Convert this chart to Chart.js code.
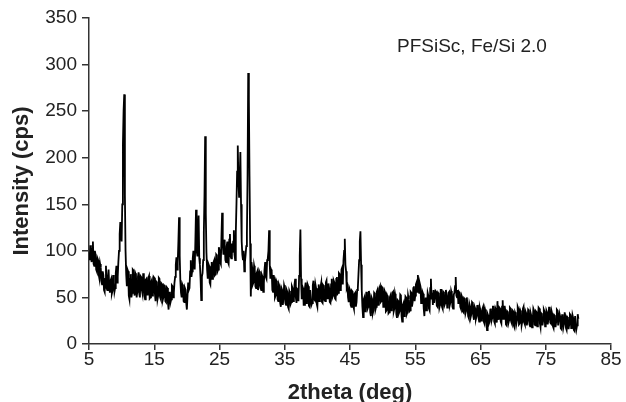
<!DOCTYPE html>
<html>
<head>
<meta charset="utf-8">
<script src="https://cdn.jsdelivr.net/npm/chart.js@4"></script>
<style>
  html, body { margin: 0; padding: 0; background: #fff; }
  canvas { display: block; }
</style>
</head>
<body>
<canvas id="xrd" width="626" height="402"></canvas>
<script>
// scan: 5 -> 80 deg, 0.1 deg step (one row per degree)
const scanStart = 5;
const scanStep = 0.1;

const intensity = [
  98, 90, 106, 94, 88, 102, 110, 86, 84, 100,        // 5
  96, 80, 78, 92, 90, 74, 70, 86, 82, 68,            // 6
  64, 78, 74, 58, 56, 70, 84, 60, 58, 72,            // 7
  80, 62, 55, 68, 70, 54, 57, 74, 66, 56,            // 8
  60, 76, 84, 66, 72, 88, 100, 118, 131, 122,        // 9
  110, 150, 215, 250, 268, 160, 100, 75, 62, 80,     // 10
  78, 52, 48, 70, 75, 50, 55, 80, 79, 56,            // 11
  52, 76, 74, 50, 56, 72, 77, 54, 50, 73,            // 12
  72, 58, 54, 75, 76, 52, 48, 69, 70, 53,            // 13
  55, 71, 73, 49, 50, 66, 68, 52, 53, 72,            // 14
  71, 54, 46, 67, 66, 48, 52, 71, 70, 50,            // 15
  48, 65, 64, 47, 50, 63, 62, 46, 45, 61,            // 16
  60, 44, 37, 55, 56, 45, 48, 63, 62, 50,            // 17
  55, 66, 72, 85, 93, 80, 88, 110, 136, 95,          // 18
  68, 55, 50, 64, 62, 46, 45, 60, 58, 44,            // 19
  37, 52, 66, 58, 60, 78, 90, 72, 78, 92,            // 20
  100, 86, 80, 110, 144, 100, 95, 120, 138, 92,      // 21
  85, 70, 47, 72, 76, 90, 120, 160, 223, 140,        // 22
  98, 80, 70, 86, 84, 66, 64, 82, 88, 70,            // 23
  72, 88, 90, 74, 75, 96, 95, 78, 80, 104,           // 24
  100, 88, 86, 115, 141, 108, 96, 112, 107, 90,      // 25
  88, 105, 110, 88, 86, 112, 118, 94, 92, 108,       // 26
  98, 110, 122, 96, 90, 120, 150, 185, 213, 175,     // 27
  158, 180, 206, 150, 110, 96, 90, 100, 78, 88,      // 28
  96, 105, 118, 180, 291, 263, 180, 108, 51, 88,     // 29
  82, 64, 66, 84, 80, 62, 60, 76, 78, 58,            // 30
  62, 78, 76, 60, 58, 74, 72, 56, 65, 80,            // 31
  88, 72, 70, 90, 92, 100, 122, 85, 70, 80,          // 32
  78, 58, 56, 74, 70, 50, 52, 68, 66, 48,            // 33
  46, 64, 62, 44, 40, 60, 58, 42, 48, 63,            // 34
  60, 44, 42, 58, 56, 40, 38, 57, 55, 43,            // 35
  45, 62, 60, 46, 48, 64, 70, 50, 44, 59,            // 36
  58, 46, 73, 95, 123, 70, 48, 62, 60, 42,           // 37
  42, 60, 66, 44, 45, 64, 62, 41, 40, 58,            // 38
  58, 42, 44, 63, 68, 48, 47, 64, 60, 43,            // 39
  40, 58, 64, 46, 48, 62, 66, 45, 44, 63,            // 40
  62, 47, 46, 66, 68, 49, 50, 65, 60, 45,            // 41
  44, 64, 70, 50, 52, 68, 66, 49, 48, 70,            // 42
  72, 54, 55, 76, 75, 58, 60, 80, 82, 64,            // 43
  90, 100, 113, 85, 78, 60, 62, 50, 45, 60,          // 44
  58, 42, 40, 57, 56, 41, 38, 54, 55, 40,            // 45
  45, 58, 60, 75, 90, 110, 121, 85, 58, 40,          // 46
  29, 48, 50, 35, 36, 55, 56, 38, 40, 57,            // 47
  52, 34, 30, 50, 48, 33, 36, 55, 54, 37,            // 48
  40, 56, 58, 42, 44, 60, 62, 45, 46, 61,            // 49
  60, 40, 42, 57, 55, 35, 36, 52, 50, 33,            // 50
  34, 50, 52, 36, 40, 55, 56, 35, 38, 54,            // 51
  50, 32, 28, 47, 46, 33, 35, 53, 52, 30,            // 52
  24, 42, 44, 30, 38, 51, 50, 32, 34, 52,            // 53
  48, 35, 36, 56, 55, 40, 45, 60, 62, 46,            // 54
  52, 64, 66, 56, 74, 58, 55, 65, 62, 44,            // 55
  45, 56, 54, 38, 30, 48, 50, 36, 40, 55,            // 56
  52, 38, 36, 60, 70, 48, 55, 42, 58, 44,            // 57
  44, 57, 56, 41, 40, 55, 54, 39, 42, 58,            // 58
  58, 40, 38, 56, 55, 42, 44, 58, 52, 39,            // 59
  40, 55, 56, 42, 45, 57, 54, 40, 38, 53,            // 60
  55, 62, 72, 52, 50, 58, 44, 56, 55, 40,            // 61
  38, 52, 50, 35, 34, 49, 48, 33, 36, 50,            // 62
  42, 30, 28, 43, 40, 29, 32, 45, 44, 30,            // 63
  26, 40, 38, 27, 30, 41, 42, 28, 24, 39,            // 64
  36, 25, 27, 38, 40, 24, 22, 37, 34, 23,            // 65
  15, 32, 30, 22, 24, 37, 38, 25, 28, 40,            // 66
  40, 24, 22, 38, 36, 23, 46, 30, 26, 39,            // 67
  38, 24, 22, 40, 47, 27, 28, 41, 36, 21,            // 68
  20, 35, 34, 23, 26, 39, 38, 24, 22, 36,            // 69
  35, 20, 18, 34, 32, 22, 26, 40, 38, 21,            // 70
  22, 36, 34, 20, 24, 38, 40, 23, 21, 35,            // 71
  33, 20, 25, 37, 36, 21, 19, 33, 30, 18,            // 72
  24, 38, 36, 21, 20, 35, 34, 19, 27, 39,            // 73
  38, 22, 18, 33, 32, 20, 25, 37, 35, 19,            // 74
  20, 36, 34, 21, 26, 39, 40, 23, 22, 35,            // 75
  32, 19, 17, 31, 30, 18, 24, 37, 36, 20,            // 76
  20, 33, 30, 17, 16, 31, 32, 18, 22, 34,            // 77
  30, 17, 15, 29, 28, 16, 21, 32, 31, 17,            // 78
  18, 31, 28, 15, 14, 30, 30, 16, 20, 32,            // 79
  27                                                 // 80
];

const xRange = [5, 85, 10];
const yRange = [0, 350, 50];
const xTitle = "2theta (deg)";
const yTitle = "Intensity (cps)";
const noteText = "PFSiSc, Fe/Si 2.0";
const notePos = [52.2, 314];

const points = intensity.map((v, i) => ({ x: scanStart + i * scanStep, y: v }));

const fontFamily = '"Liberation Sans", Arial, sans-serif';
const ink = "#222";

// sample label in the upper right, placed in data units
const notePlugin = {
  id: "note",
  afterDraw(chart) {
    const { ctx, scales } = chart;
    ctx.save();
    ctx.font = "19px " + fontFamily;
    ctx.fillStyle = ink;
    ctx.textAlign = "left";
    ctx.textBaseline = "alphabetic";
    ctx.fillText(noteText, scales.x.getPixelForValue(notePos[0]), scales.y.getPixelForValue(notePos[1]));
    ctx.restore();
  },
};

new Chart(document.getElementById("xrd"), {
  type: "line",
  data: {
    datasets: [
      {
        data: points,
        borderColor: "#000",
        borderWidth: 1.8,
        pointRadius: 0,
        tension: 0,
        fill: false,
      },
    ],
  },
  options: {
    responsive: false,
    animation: false,
    devicePixelRatio: 1,
    layout: { padding: { top: 18, right: 15, left: 0, bottom: 0 } },
    plugins: { legend: { display: false }, tooltip: { enabled: false } },
    scales: {
      x: {
        type: "linear",
        min: xRange[0],
        max: xRange[1],
        afterFit: (scale) => { scale.height = 58; },
        ticks: {
          stepSize: xRange[2],
          color: ink,
          padding: 0,
          font: { family: fontFamily, size: 19, lineHeight: 1.0 },
          maxRotation: 0,
        },
        grid: { drawOnChartArea: false, drawTicks: true, tickLength: 6, color: "#333", lineWidth: 1.5 },
        border: { color: "#333", width: 1.5 },
        title: {
          display: true,
          text: xTitle,
          color: ink,
          padding: { top: 0, bottom: 0 },
          font: { family: fontFamily, size: 22, weight: "bold", lineHeight: 0.8 },
        },
      },
      y: {
        min: yRange[0],
        max: yRange[1],
        afterFit: (scale) => { scale.width = 89; },
        ticks: {
          stepSize: yRange[2],
          color: ink,
          padding: 5,
          font: { family: fontFamily, size: 19 },
        },
        grid: { drawOnChartArea: false, drawTicks: true, tickLength: 7, color: "#333", lineWidth: 1.5 },
        border: { color: "#333", width: 1.5 },
        title: {
          display: true,
          text: yTitle,
          color: ink,
          padding: { top: 9, bottom: 0 },
          font: { family: fontFamily, size: 22, weight: "bold" },
        },
      },
    },
  },
  plugins: [notePlugin],
});
</script>
</body>
</html>
